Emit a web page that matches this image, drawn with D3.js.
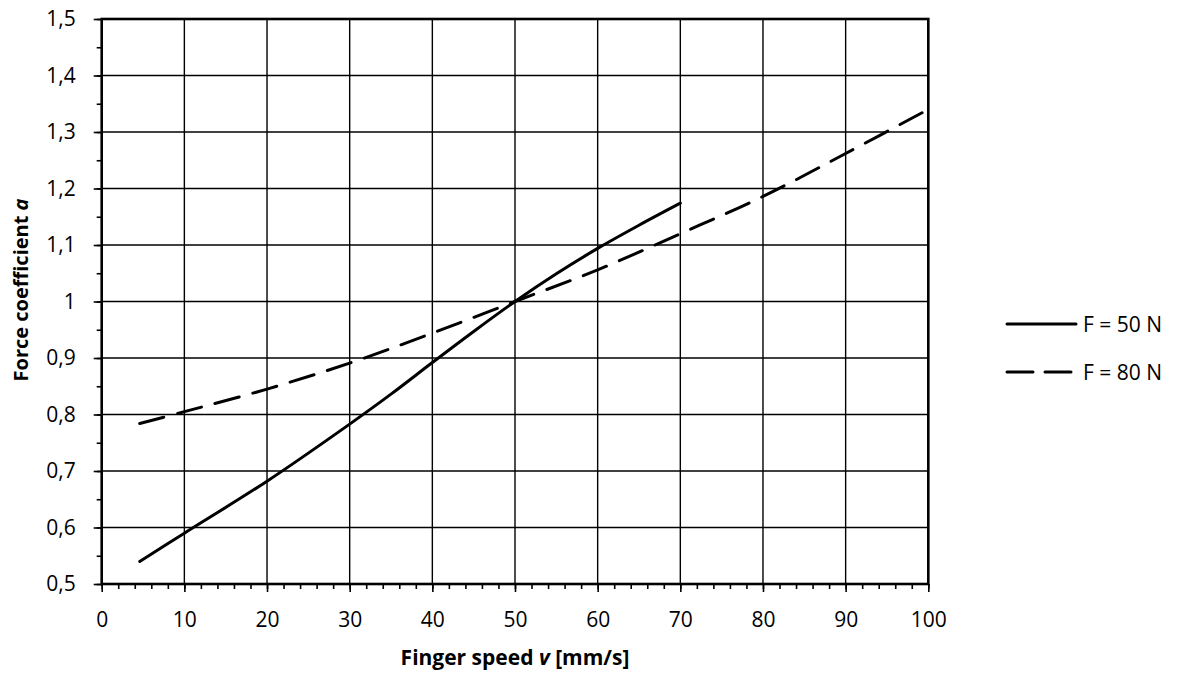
<!DOCTYPE html>
<html>
<head>
<meta charset="utf-8">
<script src="https://cdn.jsdelivr.net/npm/d3@7"></script>
<style>
  html, body { margin: 0; padding: 0; background: #fff; }
  svg { display: block; font-family: "Open Sans", sans-serif; }
</style>
</head>
<body>
<svg id="chart" width="1180" height="674"></svg>
<script>
// ---- data ----
const speed50 = [4.6, 10, 20, 30, 35, 40, 45, 50, 55, 60, 65, 70];
const alpha50 = [0.54, 0.59, 0.682, 0.783, 0.836, 0.892, 0.947, 1.0, 1.049, 1.094, 1.135, 1.174];
const speed80 = [4.6, 10, 20, 30, 40, 50, 60, 70, 80, 90, 100];
const alpha80 = [0.784, 0.805, 0.845, 0.891, 0.944, 1.0, 1.056, 1.12, 1.186, 1.262, 1.34];
const seriesNames = ["F = 50 N", "F = 80 N"];
const xTicks = [0, 10, 20, 30, 40, 50, 60, 70, 80, 90, 100];
const yTicks = [0.5, 0.6, 0.7, 0.8, 0.9, 1.0, 1.1, 1.2, 1.3, 1.4, 1.5];

const svg = d3.select("#chart");
const L = 101.7, R = 928.3, T = 19, B = 584;
const x = d3.scaleLinear().domain([0, 100]).range([L, R]);
const y = d3.scaleLinear().domain([0.5, 1.5]).range([B, T]);
const fmt = v => (Math.round(v * 10) / 10).toString().replace(".", ",");

// grid
const g = svg.append("g");
g.selectAll("line.vg").data(xTicks).join("line")
  .attr("x1", d => x(d)).attr("x2", d => x(d)).attr("y1", T).attr("y2", B)
  .attr("stroke", "#000").attr("stroke-width", 1.4);
g.selectAll("line.hg").data(yTicks).join("line")
  .attr("y1", d => y(d)).attr("y2", d => y(d)).attr("x1", L).attr("x2", R)
  .attr("stroke", "#000").attr("stroke-width", 1.4);

// axes
const xMinor = d3.range(0, 100.001, 2);
const yMinor = d3.range(0.5, 1.5001, 0.05);
const xAxisMinor = d3.axisBottom(x).tickValues(xMinor).tickSize(5).tickFormat("");
const yAxisMinor = d3.axisLeft(y).tickValues(yMinor).tickSize(5).tickFormat("");
svg.append("g").attr("transform", `translate(0,${B})`).call(xAxisMinor)
  .call(a => a.select(".domain").remove())
  .selectAll("line").attr("stroke", "#000").attr("stroke-width", 1.6);
svg.append("g").attr("transform", `translate(${L},0)`).call(yAxisMinor)
  .call(a => a.select(".domain").remove())
  .selectAll("line").attr("stroke", "#000").attr("stroke-width", 1.6);

const xAxis = d3.axisBottom(x).tickValues(xTicks).tickSize(8).tickPadding(20).tickFormat(d => d);
const yAxis = d3.axisLeft(y).tickValues(yTicks).tickSize(8).tickPadding(18).tickFormat(fmt);
svg.append("g").attr("transform", `translate(0,${B})`).call(xAxis)
  .call(a => a.select(".domain").remove())
  .call(a => a.selectAll("line").attr("stroke", "#000").attr("stroke-width", 1.6))
  .call(a => a.selectAll("text").attr("font-size", 21).attr("fill", "#000").attr("font-family", "Open Sans"));
svg.append("g").attr("transform", `translate(${L},0)`).call(yAxis)
  .call(a => a.select(".domain").remove())
  .call(a => a.selectAll("line").attr("stroke", "#000").attr("stroke-width", 1.6))
  .call(a => a.selectAll("text").attr("font-size", 21).attr("fill", "#000").attr("font-family", "Open Sans"));

// frame
svg.append("rect").attr("x", L).attr("y", T).attr("width", R - L).attr("height", B - T)
  .attr("fill", "none").attr("stroke", "#000").attr("stroke-width", 2.6);

// lines
const line = d3.line().x(d => x(d[0])).y(d => y(d[1])).curve(d3.curveCatmullRom.alpha(0.5));
const d50 = speed50.map((s, i) => [s, alpha50[i]]);
const d80 = speed80.map((s, i) => [s, alpha80[i]]);
svg.append("path").datum(d50).attr("d", line).attr("fill", "none")
  .attr("stroke", "#000").attr("stroke-width", 3).attr("stroke-linecap", "round");
svg.append("path").datum(d80).attr("d", line).attr("fill", "none")
  .attr("stroke", "#000").attr("stroke-width", 3).attr("stroke-linecap", "round")
  .attr("stroke-dasharray", "25,14");

// legend
const leg = svg.append("g");
[[324, null], [372, "26,12"]].forEach(([ly, dash], i) => {
  const ln = leg.append("line").attr("x1", 1007).attr("x2", 1076).attr("y1", ly).attr("y2", ly)
    .attr("stroke", "#000").attr("stroke-width", 3).attr("stroke-linecap", "round");
  if (dash) ln.attr("stroke-dasharray", dash);
  leg.append("text").attr("x", 1083).attr("y", ly).attr("dy", "0.36em")
    .attr("font-size", 21).text(seriesNames[i]);
});

// axis titles
const xt = svg.append("text").attr("x", (L + R) / 2).attr("y", 665)
  .attr("text-anchor", "middle").attr("font-size", 21).attr("font-weight", "bold");
xt.append("tspan").text("Finger speed ");
xt.append("tspan").attr("font-style", "italic").text("v");
xt.append("tspan").text(" [mm/s]");

const yt = svg.append("text").attr("transform", `translate(28,290) rotate(-90)`)
  .attr("text-anchor", "middle").attr("font-size", 20).attr("font-weight", "bold");
yt.append("tspan").text("Force coefficient ");
yt.append("tspan").attr("font-style", "italic").text("a");
</script>
</body>
</html>
